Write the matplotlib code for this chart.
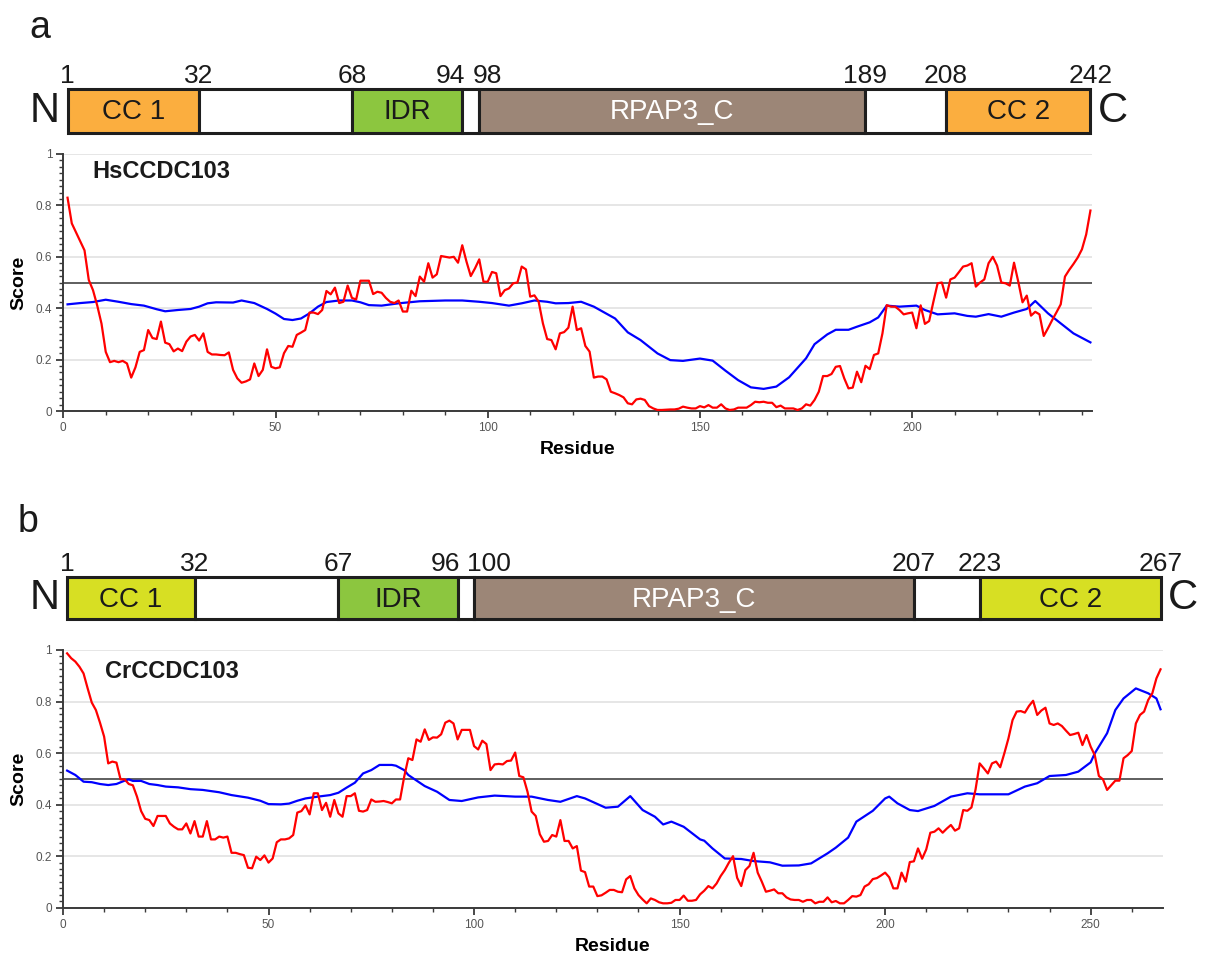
import matplotlib
matplotlib.use('Agg')
import matplotlib.pyplot as plt
from matplotlib.patches import Rectangle
from matplotlib.ticker import MultipleLocator
import matplotlib.transforms as mtransforms

plt.rcParams['font.family'] = ['Liberation Sans', 'DejaVu Sans']

# ---------------- data: HsCCDC103 (panel a) ----------------
hs_red = [0.83, 0.73, 0.695, 0.66, 0.625, 0.51, 0.47, 0.41, 0.34, 0.23,
          0.19, 0.195, 0.19, 0.195, 0.185, 0.13, 0.17, 0.23, 0.237, 0.315,
          0.284, 0.28, 0.348, 0.266, 0.26, 0.232, 0.243, 0.233, 0.27, 0.29,
          0.296, 0.274, 0.302, 0.23, 0.22, 0.22, 0.218, 0.217, 0.228, 0.16,
          0.127, 0.11, 0.115, 0.123, 0.185, 0.136, 0.16, 0.24, 0.172, 0.166,
          0.17, 0.225, 0.253, 0.25, 0.296, 0.305, 0.315, 0.383, 0.383, 0.377,
          0.393, 0.467, 0.454, 0.48, 0.42, 0.425, 0.488, 0.44, 0.434, 0.507,
          0.507, 0.507, 0.455, 0.464, 0.46, 0.44, 0.425, 0.42, 0.43, 0.387,
          0.387, 0.468, 0.447, 0.523, 0.503, 0.575, 0.519, 0.532, 0.603, 0.6,
          0.597, 0.6, 0.577, 0.645, 0.581, 0.525, 0.555, 0.59, 0.503, 0.503,
          0.541, 0.536, 0.447, 0.47, 0.477, 0.497, 0.5, 0.562, 0.551, 0.445,
          0.45, 0.425, 0.341, 0.28, 0.276, 0.24, 0.302, 0.307, 0.324, 0.406,
          0.315, 0.322, 0.253, 0.231, 0.13, 0.134, 0.134, 0.123, 0.075, 0.069,
          0.062, 0.053, 0.03, 0.026, 0.045, 0.048, 0.043, 0.019, 0.01, 0.004,
          0.004, 0.005, 0.006, 0.006, 0.009, 0.017, 0.013, 0.01, 0.01, 0.019,
          0.014, 0.023, 0.013, 0.013, 0.026, 0.01, 0.004, 0.006, 0.013, 0.013,
          0.013, 0.023, 0.036, 0.034, 0.036, 0.032, 0.032, 0.015, 0.021, 0.01,
          0.01, 0.01, 0.004, 0.01, 0.026, 0.021, 0.043, 0.075, 0.136, 0.136,
          0.144, 0.172, 0.175, 0.127, 0.088, 0.091, 0.153, 0.112, 0.176, 0.163,
          0.218, 0.224, 0.302, 0.412, 0.406, 0.406, 0.393, 0.376, 0.38, 0.383,
          0.322, 0.411, 0.339, 0.35, 0.425, 0.497, 0.5, 0.441, 0.512, 0.519,
          0.54, 0.562, 0.566, 0.575, 0.484, 0.5, 0.512, 0.575, 0.6, 0.566,
          0.5, 0.497, 0.488, 0.577, 0.503, 0.423, 0.449, 0.371, 0.386, 0.376,
          0.292, 0.322, 0.354, 0.384, 0.415, 0.523, 0.549, 0.572, 0.597, 0.629,
          0.687, 0.78]
hs_red_res = list(range(1, len(hs_red) + 1))

hs_blue_res = [1, 4, 7, 10, 13, 16, 19, 22, 24, 27, 30, 32, 34, 36, 40, 42, 45,
               48, 50, 52, 54, 56, 58, 60, 62, 65, 68, 70, 72, 75, 79, 84, 90,
               94, 98, 101, 105, 108, 111, 114, 116, 119, 122, 125, 130, 133,
               136, 140, 143, 146, 150, 153, 156, 159, 162, 165, 168, 171, 175,
               177, 180, 182, 185, 187, 190, 192, 194, 197, 201, 203, 206, 210,
               213, 215, 218, 221, 224, 227, 229, 232, 235, 238, 242]
hs_blue = [0.415, 0.42, 0.424, 0.433, 0.425, 0.416, 0.41, 0.396, 0.388, 0.393,
           0.397, 0.406, 0.419, 0.423, 0.422, 0.43, 0.42, 0.397, 0.379, 0.358,
           0.354, 0.36, 0.38, 0.406, 0.424, 0.43, 0.43, 0.423, 0.412, 0.41,
           0.419, 0.427, 0.43, 0.43, 0.425, 0.42, 0.41, 0.419, 0.43, 0.425,
           0.419, 0.42, 0.425, 0.406, 0.36, 0.306, 0.276, 0.224, 0.198, 0.195,
           0.204, 0.196, 0.157, 0.12, 0.092, 0.086, 0.095, 0.131, 0.205, 0.26,
           0.298, 0.316, 0.316, 0.328, 0.345, 0.364, 0.41, 0.406, 0.41, 0.393,
           0.376, 0.38, 0.37, 0.367, 0.377, 0.367, 0.383, 0.397, 0.428, 0.38,
           0.341, 0.302, 0.267]

hs_dom_start = [1, 32, 68, 94, 98, 189, 208]
hs_dom_end = [32, 68, 94, 98, 189, 208, 242]
hs_dom_name = ['CC 1', '', 'IDR', '', 'RPAP3_C', '', 'CC 2']
hs_dom_kind = ['cc', 'link', 'idr', 'link', 'rpap', 'link', 'cc']
hs_bounds = [1, 32, 68, 94, 98, 189, 208, 242]

# ---------------- data: CrCCDC103 (panel b) ----------------
cr_red = [0.987, 0.968, 0.955, 0.935, 0.909, 0.851, 0.796, 0.767, 0.718, 0.664,
          0.56, 0.567, 0.563, 0.498, 0.498, 0.48, 0.475, 0.431, 0.375, 0.345,
          0.34, 0.317, 0.356, 0.356, 0.356, 0.327, 0.314, 0.304, 0.304, 0.327,
          0.288, 0.336, 0.276, 0.276, 0.336, 0.265, 0.265, 0.276, 0.272, 0.276,
          0.213, 0.213, 0.208, 0.204, 0.155, 0.153, 0.198, 0.185, 0.203, 0.175,
          0.191, 0.254, 0.265, 0.265, 0.269, 0.282, 0.369, 0.375, 0.397, 0.362,
          0.444, 0.444, 0.379, 0.407, 0.353, 0.418, 0.366, 0.353, 0.433, 0.433,
          0.444, 0.376, 0.373, 0.379, 0.42, 0.411, 0.412, 0.414, 0.41, 0.405,
          0.42, 0.42, 0.508, 0.58, 0.573, 0.653, 0.644, 0.692, 0.651, 0.661,
          0.66, 0.673, 0.718, 0.726, 0.715, 0.653, 0.69, 0.69, 0.69, 0.627,
          0.614, 0.648, 0.635, 0.534, 0.556, 0.558, 0.556, 0.569, 0.571, 0.602,
          0.511, 0.506, 0.45, 0.373, 0.356, 0.285, 0.256, 0.259, 0.282, 0.276,
          0.34, 0.259, 0.259, 0.23, 0.239, 0.144, 0.138, 0.082, 0.082, 0.045,
          0.048, 0.058, 0.069, 0.069, 0.062, 0.06, 0.11, 0.123, 0.075, 0.049,
          0.032, 0.017, 0.036, 0.03, 0.021, 0.017, 0.017, 0.019, 0.03, 0.03,
          0.047, 0.027, 0.027, 0.03, 0.052, 0.066, 0.084, 0.075, 0.094, 0.123,
          0.146, 0.175, 0.2, 0.116, 0.084, 0.146, 0.162, 0.213, 0.136, 0.101,
          0.062, 0.066, 0.071, 0.056, 0.056, 0.04, 0.032, 0.03, 0.03, 0.023,
          0.03, 0.03, 0.017, 0.023, 0.023, 0.04, 0.021, 0.026, 0.017, 0.017,
          0.03, 0.045, 0.043, 0.049, 0.082, 0.091, 0.111, 0.115, 0.125, 0.136,
          0.118, 0.075, 0.075, 0.136, 0.101, 0.177, 0.18, 0.23, 0.19, 0.226,
          0.291, 0.295, 0.308, 0.291, 0.307, 0.321, 0.299, 0.308, 0.379, 0.376,
          0.389, 0.459, 0.56, 0.541, 0.521, 0.56, 0.567, 0.545, 0.599, 0.657,
          0.728, 0.761, 0.763, 0.757, 0.783, 0.803, 0.748, 0.765, 0.776, 0.715,
          0.709, 0.715, 0.705, 0.687, 0.67, 0.674, 0.679, 0.631, 0.67, 0.625,
          0.592, 0.511, 0.498, 0.457, 0.475, 0.493, 0.493, 0.58, 0.592, 0.608,
          0.715, 0.748, 0.761, 0.806, 0.832, 0.89, 0.925]
cr_red_res = list(range(1, len(cr_red) + 1))

cr_blue_res = [1, 3, 5, 7, 9, 11, 13, 15, 16, 17, 19, 21, 23, 25, 28, 31, 34,
               38, 41, 45, 48, 50, 53, 55, 57, 59, 62, 65, 67, 69, 71, 73, 75,
               77, 80, 81, 83, 84, 88, 91, 94, 97, 101, 105, 110, 114, 118, 121,
               125, 127, 132, 135, 138, 141, 144, 146, 148, 151, 155, 156, 158,
               161, 165, 168, 172, 175, 179, 182, 186, 188, 191, 193, 197, 200,
               201, 203, 206, 208, 212, 216, 220, 223, 230, 234, 237, 240, 244,
               247, 250, 251, 254, 256, 258, 261, 264, 266, 267]
cr_blue = [0.532, 0.515, 0.489, 0.487, 0.48, 0.476, 0.48, 0.493, 0.498, 0.492,
           0.492, 0.48, 0.476, 0.47, 0.467, 0.46, 0.457, 0.448, 0.437, 0.427,
           0.415, 0.402, 0.401, 0.404, 0.415, 0.424, 0.431, 0.437, 0.446, 0.466,
           0.485, 0.521, 0.534, 0.554, 0.554, 0.551, 0.534, 0.515, 0.472, 0.45,
           0.418, 0.414, 0.428, 0.435, 0.431, 0.431, 0.418, 0.411, 0.433, 0.424,
           0.388, 0.392, 0.433, 0.379, 0.353, 0.323, 0.334, 0.314, 0.265, 0.26,
           0.23, 0.191, 0.189, 0.181, 0.176, 0.163, 0.164, 0.172, 0.211, 0.233,
           0.272, 0.334, 0.376, 0.424, 0.431, 0.405, 0.379, 0.375, 0.395, 0.431,
           0.444, 0.44, 0.44, 0.47, 0.483, 0.511, 0.515, 0.528, 0.564, 0.599,
           0.677, 0.767, 0.812, 0.851, 0.832, 0.812, 0.77]

cr_dom_start = [1, 32, 67, 96, 100, 207, 223]
cr_dom_end = [32, 67, 96, 100, 207, 223, 267]
cr_dom_name = ['CC 1', '', 'IDR', '', 'RPAP3_C', '', 'CC 2']
cr_dom_kind = ['cc', 'link', 'idr', 'link', 'rpap', 'link', 'cc']
cr_bounds = [1, 32, 67, 96, 100, 207, 223, 267]

threshold = 0.5

# ---------------- style ----------------
W, H = 1209, 956
fig = plt.figure(figsize=(W / 100, H / 100), dpi=100)


def fx(px):
    return px / W


def fy(py):
    return 1 - py / H


def draw_bar(rect, xmax, starts, ends, names, kinds, bounds, cc_color):
    ax = fig.add_axes(rect)
    ax.set_xlim(0, xmax)
    ax.set_ylim(0, 1)
    ax.axis('off')
    colors = {'cc': cc_color, 'link': 'white', 'idr': '#8cc63f',
              'rpap': '#9c8677'}
    for s, e, n, k in zip(starts, ends, names, kinds):
        ax.add_patch(Rectangle((s, 0), e - s, 1, facecolor=colors[k],
                               edgecolor='#1e1e1e', lw=2.2, clip_on=False))
        if n:
            tc = 'white' if k == 'rpap' else '#1a1a1a'
            ax.text((s + e) / 2, 0.47, n, ha='center', va='center',
                    fontsize=20, color=tc)
    for i, b in enumerate(bounds):
        ha = 'center'
        dx = 0
        if i == 3:
            ha, dx = 'right', 2
        elif i == 4:
            ha, dx = 'left', -5
        tr = mtransforms.offset_copy(ax.transData, fig=fig, x=dx, y=4.5,
                                     units='points')
        ax.text(b, 1, str(b), ha=ha, va='baseline', fontsize=19,
                color='#1a1a1a', transform=tr)
    trn = mtransforms.offset_copy(ax.transData, fig=fig, x=-4, y=0,
                                  units='points')
    ax.text(bounds[0] - 0.5, 0.5, 'N', ha='right', va='center', fontsize=30,
            color='#1a1a1a', transform=trn)
    trc = mtransforms.offset_copy(ax.transData, fig=fig, x=4, y=0,
                                  units='points')
    ax.text(bounds[-1] + 0.5, 0.5, 'C', ha='left', va='center', fontsize=30,
            color='#1a1a1a', transform=trc)
    return ax


def draw_plot(rect, xmax, rres, rval, bres, bval, name, name_xy):
    ax = fig.add_axes(rect)
    ax.set_xlim(0, xmax)
    ax.set_ylim(0, 1)
    ax.set_yticks([0, 0.2, 0.4, 0.6, 0.8, 1])
    ax.set_yticklabels(['0', '0.2', '0.4', '0.6', '0.8', '1'])
    ax.yaxis.set_minor_locator(MultipleLocator(0.025))
    ax.xaxis.set_major_locator(MultipleLocator(50))
    ax.xaxis.set_minor_locator(MultipleLocator(10))
    ax.yaxis.grid(True, color='#e6e6e6', lw=1.4)
    ax.set_axisbelow(True)
    for sp in ['top', 'right']:
        ax.spines[sp].set_visible(False)
    for sp in ['left', 'bottom']:
        ax.spines[sp].set_color('#3a3a3a')
        ax.spines[sp].set_linewidth(1.4)
    ax.tick_params(which='major', direction='out', length=5, width=1.3,
                   color='#3a3a3a', labelsize=8.5, labelcolor='#555555', pad=3)
    ax.tick_params(which='minor', direction='out', length=3, width=1.0,
                   color='#3a3a3a')
    ax.axhline(threshold, color='#333333', lw=1.1, zorder=2)
    ax.plot(bres, bval, color='#0000ff', lw=1.6, zorder=3)
    ax.plot(rres, rval, color='#ff0000', lw=1.6, zorder=4)
    ax.text(name_xy[0], name_xy[1], name, ha='left', va='center',
            fontsize=17, fontweight='bold', color='#1a1a1a')
    ax.set_xlabel('Residue', fontsize=14, fontweight='bold', labelpad=5)
    ax.set_ylabel('Score', fontsize=14, fontweight='bold', labelpad=6)
    return ax


# panel a
a_left = fx(63.3)
a_w = fx(1091.7) - a_left
draw_bar([a_left, fy(132.7), a_w, fy(89.3) - fy(132.7)], 242.3,
         hs_dom_start, hs_dom_end, hs_dom_name, hs_dom_kind, hs_bounds,
         '#fbae3f')
draw_plot([a_left, fy(411), a_w, fy(154) - fy(411)], 242.3,
          hs_red_res, hs_red, hs_blue_res, hs_blue, 'HsCCDC103', (6.8, 0.93))

# panel b
b_left = fx(63.0)
b_w = fx(1163) - b_left
draw_bar([b_left, fy(619.3), b_w, fy(577.3) - fy(619.3)], 267.6,
         cr_dom_start, cr_dom_end, cr_dom_name, cr_dom_kind, cr_bounds,
         '#d7df23')
draw_plot([b_left, fy(907.7), b_w, fy(650) - fy(907.7)], 267.6,
          cr_red_res, cr_red, cr_blue_res, cr_blue, 'CrCCDC103', (10.2, 0.916))

fig.text(fx(29), fy(38), 'a', fontsize=27, color='#1a1a1a', va='baseline')
fig.text(fx(18), fy(532), 'b', fontsize=27, color='#1a1a1a', va='baseline')

fig.savefig('out.png', dpi=100, facecolor='white')
